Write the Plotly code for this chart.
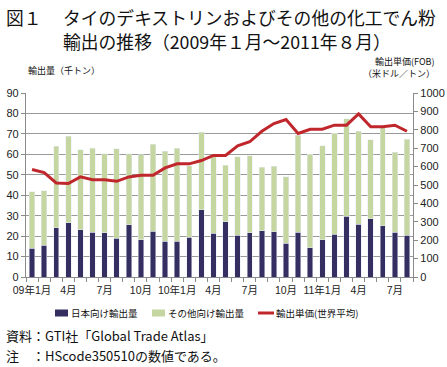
import plotly.graph_objects as go

months = [f"{y}-{m:02d}" for y in (2009, 2010, 2011) for m in range(1, 13)][:32]
tick_labels = ["09年1月", "", "", "4月", "", "", "7月", "", "", "10月", "", "",
               "10年1月", "", "", "4月", "", "", "7月", "", "", "10月", "", "",
               "11年1月", "", "", "4月", "", "", "7月", ""]
japan = [14.1, 15.6, 24.2, 26.5, 23.1, 21.9, 21.6, 19.0, 25.6, 18.2, 22.4, 17.5,
         17.4, 19.5, 32.8, 21.4, 27.1, 20.5, 21.6, 22.7, 22.2, 16.6, 21.9, 14.4,
         18.3, 20.9, 29.7, 25.8, 28.4, 25.0, 21.8, 20.5]
total = [41.7, 42.2, 63.9, 68.9, 62.3, 63.1, 60.2, 62.8, 60.2, 59.8, 64.9, 61.5,
         63.1, 54.3, 70.7, 58.9, 54.6, 58.8, 59.3, 53.7, 54.2, 49.0, 69.3, 60.1,
         64.1, 70.2, 77.5, 71.3, 67.2, 72.9, 61.1, 67.4]
others = [round(t - j, 1) for t, j in zip(total, japan)]
price = [584, 567, 511, 508, 544, 529, 529, 520, 544, 553, 553, 593,
         615, 615, 633, 661, 661, 713, 735, 792, 834, 856, 780, 803,
         803, 825, 825, 886, 816, 816, 825, 792]
series_names = ["日本向け輸出量", "その他向け輸出量", "輸出単価(世界平均)"]

navy = "#352f61"
green = "#c5d6a0"
red = "#c0272d"
font = "Noto Sans CJK JP"

W, H = 447, 367
L, R, T, B = 26, 34, 93, 90
PW, PH = W - L - R, H - T - B


def px(x):
    return (x - L) / PW


def py(y):
    return 1 - (y - T) / PH


fig = go.Figure()
fig.add_trace(go.Bar(x=months, y=japan, name=series_names[0], marker_color=navy))
fig.add_trace(go.Bar(x=months, y=others, name=series_names[1], marker_color=green))
fig.add_trace(go.Scatter(x=months, y=price, name=series_names[2], yaxis="y2",
                         mode="lines", line=dict(color=red, width=3)))

axis_common = dict(showline=True, linecolor="#8a8a8a", linewidth=1.2, ticks="outside",
                   ticklen=4, tickcolor="#8a8a8a", automargin=False, zeroline=False)

fig.update_layout(
    width=W, height=H,
    margin=dict(l=L, r=R, t=T, b=B, autoexpand=False),
    paper_bgcolor="white", plot_bgcolor="white",
    barmode="stack", bargap=0.55,
    font=dict(family=font, color="#222"),
    showlegend=False,
    xaxis=dict(type="category", tickmode="array", tickvals=months, ticktext=tick_labels,
               tickson="boundaries", showgrid=False, tickangle=0, ticklabelstandoff=3,
               tickfont=dict(size=10.5, family="Liberation Sans, " + font), **axis_common),
    yaxis=dict(range=[0, 90], dtick=10, showgrid=True, gridcolor="#9a9a9a", gridwidth=1.3,
               tickfont=dict(size=11, family="Liberation Sans"), **axis_common),
    yaxis2=dict(range=[0, 1000], dtick=100, overlaying="y", side="right", showgrid=False,
                tickfont=dict(size=11, family="Liberation Sans"), **axis_common),
)


def text(t, x, y, size, anchor="left"):
    fig.add_annotation(text=t, xref="paper", yref="paper", x=px(x), y=py(y),
                       xanchor=anchor, yanchor="middle", showarrow=False,
                       font=dict(size=size, family=font, color="#111"))


text("図１", 4, 17, 17.8)
text("タイのデキストリンおよびその他の化工でん粉", 61, 17, 17.8)
text("輸出の推移（2009年１月～2011年８月）", 61, 41, 17.8)
text("輸出量（千トン）", 26, 70, 9)
text("輸出単価(FOB)", 437, 61, 9, "right")
text("（米ドル／トン）", 437, 73, 9, "right")
text("資料：GTI社「Global Trade Atlas」", 4, 335, 13)
text("注　：HScode350510の数値である。", 4, 355, 13)

# legend
leg_y = 313
fig.add_shape(type="rect", xref="paper", yref="paper", x0=px(55), x1=px(68),
              y0=py(leg_y - 3.5), y1=py(leg_y + 3.5), fillcolor=navy, line_width=0)
text(series_names[0], 69, leg_y, 9.5)
fig.add_shape(type="rect", xref="paper", yref="paper", x0=px(152), x1=px(165),
              y0=py(leg_y - 3.5), y1=py(leg_y + 3.5), fillcolor=green, line_width=0)
text(series_names[1], 166, leg_y, 9.5)
fig.add_shape(type="line", xref="paper", yref="paper", x0=px(258), x1=px(274),
              y0=py(leg_y), y1=py(leg_y), line=dict(color=red, width=3))
text(series_names[2], 274, leg_y, 9.5)

fig.write_html("out.html", config={"displayModeBar": False},
               post_script="document.body.style.margin='0px';"
                           "document.body.style.overflow='hidden';")
